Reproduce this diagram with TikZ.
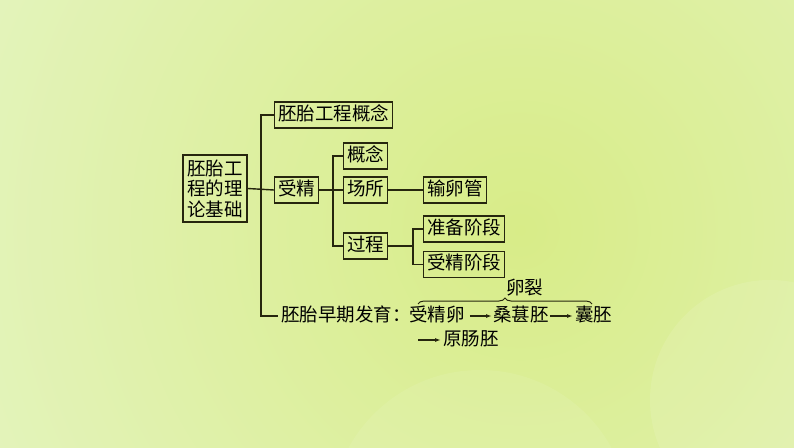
\documentclass[tikz,border=0pt]{standalone}
\usepackage{fontspec}
\setmainfont{Noto Sans CJK SC}
\usetikzlibrary{arrows.meta,decorations.pathreplacing}
\definecolor{bgedge}{HTML}{E7F6CD}
\definecolor{bgmid}{HTML}{D8EC88}
\definecolor{ink}{HTML}{26260E}
\tikzset{
  kbox/.style={draw=ink,line width=1.4pt,minimum height=26pt,inner xsep=3.5pt,inner ysep=0pt,anchor=west,text height=13.5pt,text depth=3pt},
  txt/.style={inner sep=0pt,anchor=west,text height=13.5pt,text depth=3pt},
  conn/.style={ink,line width=1.4pt},
  arr/.style={ink,line width=1.2pt,-{Latex[length=6pt,width=4pt]}}
}
\begin{document}
\begin{tikzpicture}[x=1pt,y=-1pt,font=\fontsize{18.5}{20.5}\selectfont]
    % background
    \begin{scope}
    \clip (0,0) rectangle (794,447);
    \fill[bgedge](0,0) rectangle (794,447);
    \shade[inner color=bgmid,outer color=bgedge](520,230) circle (780);
    \fill[white,opacity=.08](480,520) circle (150);
    \fill[white,opacity=.10](770,400) circle (120);
    \end{scope}
    \useasboundingbox (0,0) rectangle (794,447);

    \node[draw=ink,line width=1.4pt,align=center,inner sep=2pt,minimum width=64pt,minimum height=67pt](root) at (215,188.5){胚胎工\\程的理\\论基础};
    \node[kbox](concept) at (274,115){胚胎工程概念};
    \node[kbox](shoujing) at (274,190){受精};
    \node[kbox](gainian) at (343,156){概念};
    \node[kbox](changsuo) at (343,190){场所};
    \node[kbox](shuluanguan) at (423,190){输卵管};
    \node[kbox](guocheng) at (343,246){过程};
    \node[kbox](zhunbei) at (423,229){准备阶段};
    \node[kbox](shoujingjd) at (423,264.5){受精阶段};

    \node[txt,inner xsep=3pt](dev) at (278,316){胚胎早期发育：};
    \node[txt](zygote) at (409,316){受精卵};
    \node[txt](morula) at (493,316){桑葚胚};
    \node[txt](blastula) at (575,316){囊胚};
    \node[txt](gastrula) at (443,340){原肠胚};
    \node[txt](luanlie) at (506,289){卵裂};

    \coordinate (trunk) at (261,190);
    \coordinate (b2) at (333,190);
    \coordinate (b3) at (413,246);
    \coordinate (g0) at (418,340);
    \coordinate (brl) at (418,304);
    \coordinate (brr) at (592,304);

    \draw[conn](root.east)--(shoujing.west);
    \draw[conn](concept.west)-|(trunk)|-(dev.west);
    \draw[conn](shoujing.east)--(changsuo.west);
    \draw[conn](gainian.west)-|(b2)|-(guocheng.west);
    \draw[conn](changsuo.east)--(shuluanguan.west);
    \draw[conn](guocheng.east)--(b3);
    \draw[conn](zhunbei.west)-|(b3)|-(shoujingjd.west);

    \draw[arr]([xshift=5pt]zygote.east)--([xshift=-1pt]morula.west);
    \draw[arr]([xshift=1pt]morula.east)--([xshift=-2pt]blastula.west);
    \draw[arr](g0)--([xshift=-2pt]gastrula.west);
    \draw[ink,line width=1pt,decorate,decoration={brace,amplitude=6pt}](brl)--(brr);
\end{tikzpicture}
\end{document}
